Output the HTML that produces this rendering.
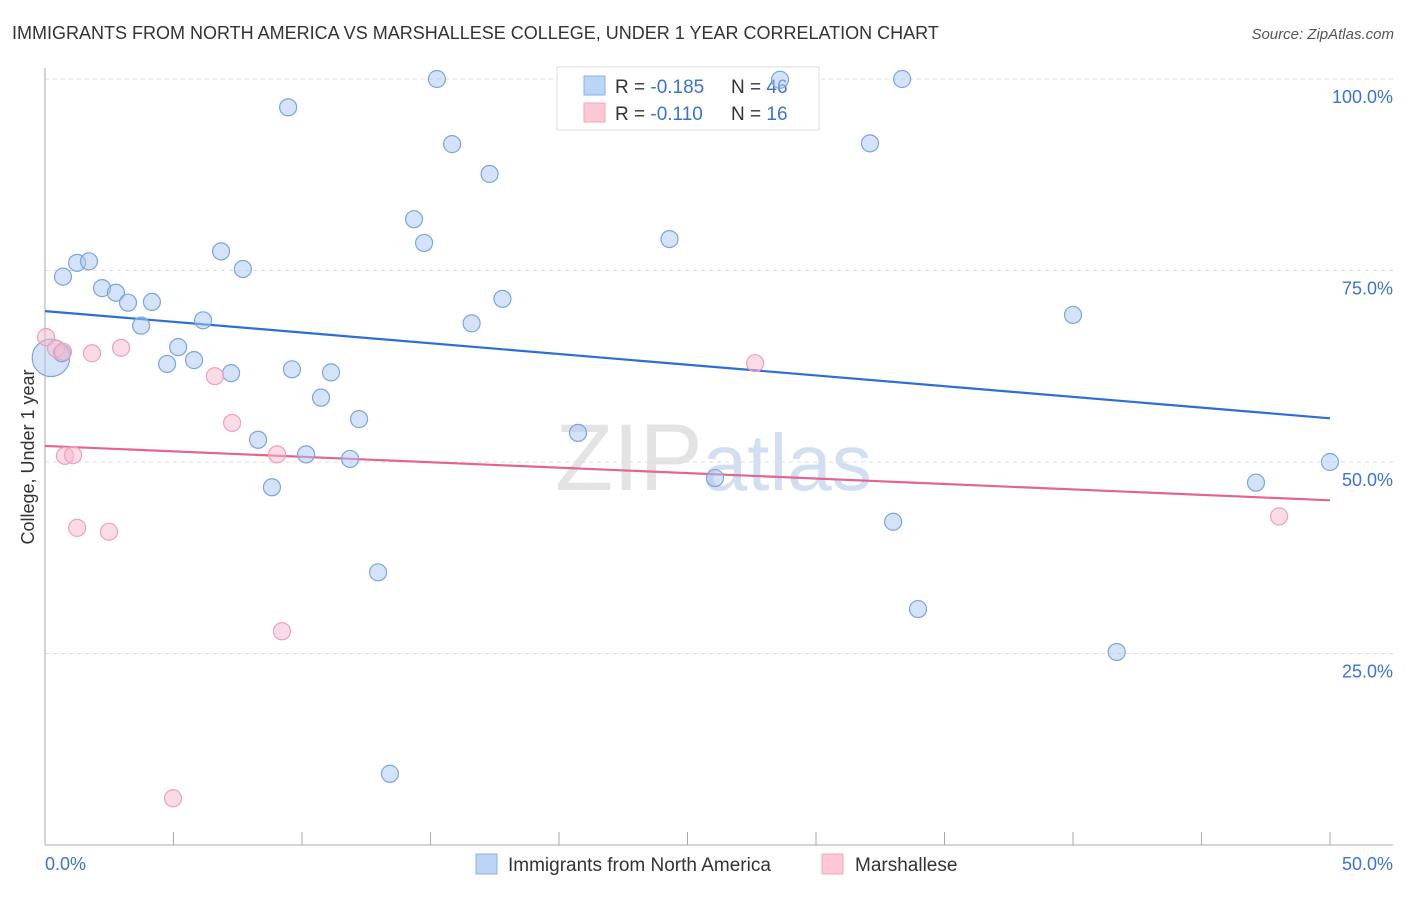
<!DOCTYPE html>
<html><head><meta charset="utf-8"><style>
body{margin:0;background:#fff;font-family:"Liberation Sans",sans-serif}
svg text{font-family:"Liberation Sans",sans-serif}
</style></head><body>
<svg width="1406" height="892" xmlns="http://www.w3.org/2000/svg" id="chart">
<text x="12" y="39" font-size="18" fill="#333">IMMIGRANTS FROM NORTH AMERICA VS MARSHALLESE COLLEGE, UNDER 1 YEAR CORRELATION CHART</text>
<text x="1394" y="39" font-size="15" fill="#555" text-anchor="end" font-style="italic">Source: ZipAtlas.com</text>
<text x="555" y="490" font-size="95" fill="#ddd" font-family="Liberation Serif" opacity="0.8">ZIP<tspan fill="#c8d8ee" font-family="Liberation Sans" font-size="80">atlas</tspan></text>
<g id="grid"></g>
<g id="axes"></g>
<g id="lines"></g>
<text transform="translate(34,457) rotate(-90)" font-size="18" fill="#333" text-anchor="middle">College, Under 1 year</text>
<g>
<rect x="557" y="67" width="262" height="63" fill="#fff" stroke="#ddd"/>
<rect x="584" y="76" width="21" height="19" fill="#bcd4f5" stroke="#8ab0e6"/>
<rect x="584" y="103" width="21" height="19" fill="#fbc8d6" stroke="#f0a8bc"/>
<text x="615" y="93" font-size="19" fill="#333">R = <tspan fill="#3a74d0">-0.185</tspan><tspan x="731">N = </tspan><tspan fill="#3a74d0">46</tspan></text>
<text x="615" y="120" font-size="19" fill="#333">R = <tspan fill="#3a74d0"> -0.110</tspan><tspan x="731">N = </tspan><tspan fill="#3a74d0"> 16</tspan></text>
</g>
<g id="pts"></g>
<g>
<rect x="476" y="854" width="21" height="20" fill="#bcd4f5" stroke="#8ab0e6"/>
<text x="508" y="871" font-size="19" fill="#333">Immigrants from North America</text>
<rect x="822" y="854" width="21" height="20" fill="#fbc8d6" stroke="#f0a8bc"/>
<text x="855" y="871" font-size="19" fill="#333">Marshallese</text>
</g>
</svg>
<script>
const blueX=[15.25,33.35,28.6,9.46,15.84,32.1,17.3,14.36,14.75,24.3,6.85,7.7,0.7,1.25,1.71,2.22,2.76,3.23,4.16,17.8,3.74,6.15,16.6,40.0,0.23,0.66,5.18,4.75,5.8,7.24,9.61,11.13,10.74,12.22,8.29,10.16,11.87,20.74,8.83,26.07,50.0,47.12,33.0,12.96,33.97,41.7,13.42];
const blueY=[100,100,99.9,96.3,91.5,91.6,87.6,81.7,78.6,79.1,77.5,75.2,74.2,76.0,76.2,72.7,72.1,70.8,70.9,71.3,67.8,68.5,68.1,69.2,63.6,64.2,65.0,62.8,63.3,61.6,62.1,61.7,58.4,55.6,52.9,51.0,50.4,53.8,46.7,47.9,50.0,47.3,42.2,35.6,30.8,25.2,9.3];
const blueSize=[1,1,1,1,1,1,1,1,1,1,1,1,1,1,1,1,1,1,1,1,1,1,1,1,2.2,1,1,1,1,1,1,1,1,1,1,1,1,1,1,1,1,1,1,1,1,1,1];
const pinkX=[0.04,0.43,0.7,1.83,2.96,6.61,7.28,0.78,1.09,9.03,27.63,1.25,2.49,9.22,4.98,48.02];
const pinkY=[66.3,64.8,64.4,64.2,64.9,61.2,55.1,50.8,50.9,51.0,62.9,41.4,40.9,27.9,6.1,42.9];
const blueTrend=[69.7,55.7];
const pinkTrend=[52.1,45.0];
const yTicks=[25,50,75,100];
const yTickLabels=["25.0%","50.0%","75.0%","100.0%"];
const xTicks=[0,5,10,15,20,25,30,35,40,45,50];
const xTickLabels=["0.0%","50.0%"];
const NS="http://www.w3.org/2000/svg";
const X=v=>45+v*25.7, Y=v=>845-v*7.66;
function mk(t,a,p){const e=document.createElementNS(NS,t);for(const k in a)e.setAttribute(k,a[k]);p.appendChild(e);return e;}
const grid=document.getElementById('grid'),axes=document.getElementById('axes'),lines=document.getElementById('lines'),pts=document.getElementById('pts');
yTicks.forEach((t,i)=>{
 const l=mk('line',{x1:45,x2:1393,y1:Y(t),y2:Y(t),stroke:'#ddd','stroke-dasharray':'4,4'},grid);
 
 
 const tx=mk('text',{x:1393,y:Y(t)+24,'font-size':18,fill:'#3a74d0','text-anchor':'end'},axes);
 tx.textContent=yTickLabels[i];
 
 
});
mk('line',{x1:45,x2:45,y1:68,y2:845,stroke:'#aaa'},axes);
mk('line',{x1:45,x2:1393,y1:845,y2:845,stroke:'#aaa'},axes);
xTicks.forEach(t=>{const l=mk('line',{x1:X(t),x2:X(t),y1:832,y2:845,stroke:'#aaa'},axes);
 
 });
const xl0=mk('text',{x:45,y:870,'font-size':18,fill:'#3a74d0'},axes);xl0.textContent=xTickLabels[0];


const xl1=mk('text',{x:1393,y:870,'font-size':18,fill:'#3a74d0','text-anchor':'end'},axes);xl1.textContent=xTickLabels[1];


blueX.forEach((x,i)=>{const c=mk('circle',{cx:X(x),cy:Y(blueY[i]),r:8.5*blueSize[i],fill:'rgba(170,200,242,0.5)',stroke:'#7aa5e0','stroke-width':1.2},pts);
 
 });
pinkX.forEach((x,i)=>{const c=mk('circle',{cx:X(x),cy:Y(pinkY[i]),r:8.5,fill:'rgba(248,185,205,0.5)',stroke:'#f0a0b8','stroke-width':1.2},pts);
 
 });
const bl=mk('line',{x1:X(0),x2:X(50),y1:Y(blueTrend[0]),y2:Y(blueTrend[1]),stroke:'#2a6fd6','stroke-width':2.2},lines);


const pl=mk('line',{x1:X(0),x2:X(50),y1:Y(pinkTrend[0]),y2:Y(pinkTrend[1]),stroke:'#e5638f','stroke-width':2.2},lines);


</script>
</body></html>
